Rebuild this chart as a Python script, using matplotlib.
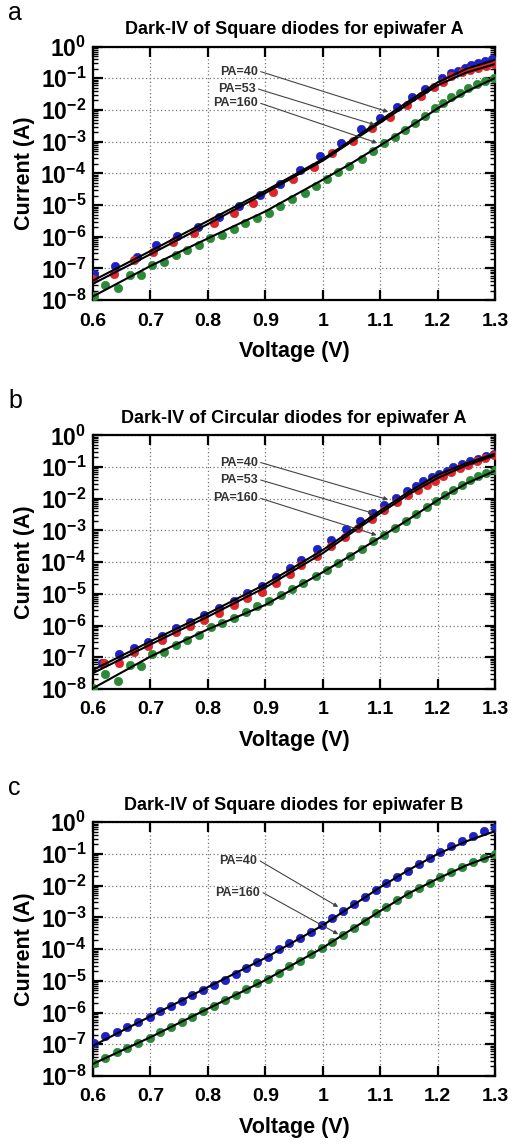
import numpy as np
import matplotlib
matplotlib.use('Agg')
import matplotlib.pyplot as plt
from matplotlib.ticker import LogLocator, NullFormatter, FixedLocator

plt.rcParams['font.family'] = ['Liberation Sans', 'DejaVu Sans']
plt.rcParams['mathtext.fontset'] = 'custom'
plt.rcParams['mathtext.rm'] = 'Liberation Sans:bold'
plt.rcParams['mathtext.bf'] = 'Liberation Sans:bold'
plt.rcParams['mathtext.default'] = 'rm'

# ---- panel a : square diodes, epiwafer A (log10 of current in A) ----
a_v40 = [0.602, 0.639, 0.677, 0.710, 0.746, 0.782, 0.819, 0.854, 0.890, 0.926, 0.961, 0.995, 1.031,
         1.067, 1.100, 1.130, 1.156, 1.178, 1.207, 1.224, 1.236, 1.248, 1.259, 1.271, 1.282, 1.294]
a_i40 = [-7.16, -6.92, -6.63, -6.26, -5.98, -5.68, -5.37, -5.02, -4.68, -4.32, -3.89, -3.45, -3.03,
         -2.61, -2.24, -1.89, -1.58, -1.35, -1.00, -0.84, -0.76, -0.66, -0.59, -0.53, -0.46, -0.40]
a_v53 = [0.600, 0.637, 0.671, 0.704, 0.740, 0.775, 0.810, 0.845, 0.878, 0.913, 0.948, 0.984, 1.017,
         1.052, 1.085, 1.117, 1.146, 1.172, 1.194, 1.210, 1.224, 1.242, 1.256, 1.271, 1.285, 1.299]
a_i53 = [-7.32, -7.16, -6.74, -6.47, -6.16, -5.87, -5.58, -5.26, -4.93, -4.58, -4.19, -3.79, -3.37,
         -2.98, -2.58, -2.21, -1.84, -1.56, -1.26, -1.11, -0.93, -0.81, -0.74, -0.67, -0.61, -0.55]
a_v160 = [0.601, 0.621, 0.643, 0.664, 0.683, 0.703, 0.724, 0.745, 0.763, 0.784, 0.804, 0.824, 0.845,
          0.865, 0.885, 0.906, 0.926, 0.946, 0.969, 0.988, 1.007, 1.026, 1.045, 1.068, 1.088, 1.107,
          1.126, 1.143, 1.161, 1.178, 1.195, 1.210, 1.224, 1.239, 1.253, 1.268, 1.282, 1.298]
a_i160 = [-7.87, -7.53, -7.60, -7.21, -7.21, -6.89, -6.79, -6.58, -6.42, -6.26, -6.05, -5.93, -5.74,
          -5.56, -5.42, -5.24, -5.02, -4.82, -4.61, -4.39, -4.19, -3.97, -3.77, -3.53, -3.29, -3.05,
          -2.84, -2.63, -2.42, -2.19, -1.95, -1.77, -1.60, -1.45, -1.32, -1.19, -1.08, -0.98]

fit_v = [0.6, 0.7, 0.8, 0.9, 1.0, 1.05, 1.1, 1.15, 1.2, 1.25, 1.3]
a_fit40 = [-7.38, -6.45, -5.50, -4.55, -3.55, -2.95, -2.33, -1.72, -1.13, -0.70, -0.42]
a_fit53 = [-7.48, -6.55, -5.60, -4.62, -3.60, -3.00, -2.40, -1.80, -1.22, -0.82, -0.55]
a_fit160 = [-7.88, -6.92, -6.05, -5.20, -4.20, -3.68, -3.12, -2.55, -1.95, -1.42, -0.99]

# ---- panel b : circular diodes, epiwafer A ----
b_v40 = [0.615, 0.645, 0.671, 0.695, 0.720, 0.745, 0.769, 0.794, 0.820, 0.845, 0.869, 0.894, 0.918,
         0.943, 0.963, 0.990, 1.014, 1.040, 1.065, 1.088, 1.107, 1.127, 1.147, 1.163, 1.175, 1.190,
         1.202, 1.216, 1.227, 1.242, 1.256, 1.271, 1.285, 1.298]
b_i40 = [-7.19, -6.91, -6.72, -6.51, -6.32, -6.08, -5.89, -5.68, -5.45, -5.22, -4.98, -4.75, -4.47,
         -4.19, -3.93, -3.58, -3.29, -2.96, -2.69, -2.45, -2.21, -1.98, -1.77, -1.61, -1.45, -1.33,
         -1.22, -1.12, -1.01, -0.91, -0.82, -0.74, -0.66, -0.59]
b_v53 = [0.620, 0.645, 0.671, 0.695, 0.720, 0.745, 0.769, 0.794, 0.820, 0.845, 0.869, 0.894, 0.918,
         0.943, 0.963, 0.990, 1.014, 1.039, 1.062, 1.086, 1.107, 1.129, 1.149, 1.166, 1.181, 1.195,
         1.210, 1.224, 1.239, 1.253, 1.268, 1.282, 1.298]
b_i53 = [-7.19, -7.19, -6.84, -6.66, -6.45, -6.21, -6.01, -5.82, -5.59, -5.35, -5.14, -4.93, -4.66,
         -4.37, -4.08, -3.80, -3.50, -3.22, -2.93, -2.63, -2.35, -2.11, -1.87, -1.72, -1.56, -1.43,
         -1.29, -1.17, -1.03, -0.93, -0.82, -0.72, -0.63]
b_v160 = [0.600, 0.621, 0.643, 0.664, 0.683, 0.703, 0.724, 0.745, 0.763, 0.784, 0.805, 0.825, 0.846,
          0.866, 0.886, 0.907, 0.927, 0.947, 0.966, 0.988, 1.008, 1.027, 1.048, 1.068, 1.088, 1.107,
          1.126, 1.145, 1.163, 1.181, 1.198, 1.213, 1.227, 1.242, 1.256, 1.271, 1.285, 1.300]
b_i160 = [-7.98, -7.54, -7.74, -7.24, -7.27, -6.91, -6.84, -6.63, -6.45, -6.29, -6.06, -5.93, -5.75,
          -5.56, -5.40, -5.22, -5.03, -4.84, -4.66, -4.45, -4.24, -4.03, -3.80, -3.58, -3.35, -3.14,
          -2.91, -2.69, -2.47, -2.26, -2.06, -1.87, -1.72, -1.56, -1.42, -1.29, -1.19, -1.10]
b_fit40 = [-7.40, -6.50, -5.62, -4.70, -3.62, -3.00, -2.38, -1.78, -1.25, -0.88, -0.58]
b_fit53 = [-7.50, -6.60, -5.72, -4.80, -3.72, -3.08, -2.46, -1.86, -1.35, -0.95, -0.63]
b_fit160 = [-7.98, -6.98, -6.12, -5.35, -4.32, -3.78, -3.22, -2.65, -2.05, -1.52, -1.12]

# ---- panel c : square diodes, epiwafer B ----
c_v40 = [0.602, 0.621, 0.641, 0.660, 0.679, 0.699, 0.717, 0.736, 0.755, 0.772, 0.791, 0.811, 0.830,
         0.849, 0.867, 0.885, 0.904, 0.924, 0.942, 0.961, 0.980, 0.998, 1.017, 1.036, 1.055, 1.074,
         1.092, 1.111, 1.130, 1.149, 1.167, 1.187, 1.205, 1.224, 1.243, 1.262, 1.281, 1.300]
c_i40 = [-6.96, -6.75, -6.61, -6.45, -6.29, -6.14, -5.96, -5.80, -5.64, -5.45, -5.29, -5.12, -4.96,
         -4.79, -4.61, -4.42, -4.24, -4.01, -3.82, -3.64, -3.45, -3.24, -3.03, -2.80, -2.58, -2.35,
         -2.14, -1.93, -1.72, -1.53, -1.33, -1.12, -0.93, -0.75, -0.58, -0.42, -0.29, -0.17]
c_v160 = c_v40
c_i160 = [-7.58, -7.42, -7.26, -7.11, -6.96, -6.79, -6.63, -6.45, -6.29, -6.14, -5.96, -5.80, -5.61,
          -5.45, -5.26, -5.08, -4.93, -4.74, -4.53, -4.37, -4.17, -3.98, -3.77, -3.56, -3.33, -3.11,
          -2.87, -2.66, -2.45, -2.26, -2.08, -1.91, -1.72, -1.56, -1.40, -1.26, -1.12, -1.00]
c_fit40 = [-7.05, -6.12, -5.20, -4.28, -3.25, -2.65, -2.05, -1.50, -1.00, -0.60, -0.28]
c_fit160 = [-7.62, -6.78, -5.88, -4.98, -3.96, -3.38, -2.80, -2.24, -1.78, -1.36, -1.02]

titles = ['Dark-IV of Square diodes for epiwafer A',
          'Dark-IV of Circular diodes for epiwafer A',
          'Dark-IV of Square diodes for epiwafer B']
letters = ['a', 'b', 'c']

# annotation: text end (V, log10 I) and arrow tip (V, log10 I)
a_notes = [('PA=40', (0.887, -0.79), (1.114, -2.06)),
           ('PA=53', (0.883, -1.34), (1.091, -2.47)),
           ('PA=160', (0.887, -1.79), (1.095, -3.04))]
b_notes = [('PA=40', (0.887, -0.86), (1.114, -2.03)),
           ('PA=53', (0.887, -1.41), (1.088, -2.46)),
           ('PA=160', (0.887, -1.99), (1.094, -3.15))]
c_notes = [('PA=40', (0.886, -1.22), (1.027, -2.67)),
           ('PA=160', (0.891, -2.22), (1.027, -3.53))]

blue = '#1c22c8'
red = '#e02428'
green = '#2a8a36'

panels = [
    ([(a_v40, a_i40, blue, a_fit40), (a_v53, a_i53, red, a_fit53), (a_v160, a_i160, green, a_fit160)], a_notes),
    ([(b_v40, b_i40, blue, b_fit40), (b_v53, b_i53, red, b_fit53), (b_v160, b_i160, green, b_fit160)], b_notes),
    ([(c_v40, c_i40, blue, c_fit40), (c_v160, c_i160, green, c_fit160)], c_notes),
]

W, H = 513, 1146
fig = plt.figure(figsize=(W / 100, H / 100), dpi=100)
tops = [46.6, 435.3, 822.3]
ax_h = 253.6

for k, (series, notes) in enumerate(panels):
    top = tops[k]
    ax = fig.add_axes([93 / W, 1 - (top + ax_h) / H, 402 / W, ax_h / H])
    for v, li, col, fit in series:
        ax.plot(v, 10 ** np.array(li), 'o', color=col, ms=6, mec=col, mew=0.5, zorder=3)
    for v, li, col, fit in series:
        ax.plot(fit_v, 10 ** np.array(fit), '-', color='black', lw=1.5, zorder=4)
    for txt, (tv, ti), (av, ai) in notes:
        ax.annotate('', xy=(av, 10 ** ai), xytext=(tv + 0.005, 10 ** ti),
                    arrowprops=dict(arrowstyle='-|>', color='#444444', lw=0.8,
                                    mutation_scale=6, shrinkA=0, shrinkB=0), zorder=5)
        ax.text(tv, 10 ** ti, txt, ha='right', va='center', fontsize=9,
                fontweight='bold', color='#333333', zorder=5)

    ax.set_yscale('log')
    ax.set_xlim(0.6, 1.3)
    ax.set_ylim(1e-8, 1)
    ax.set_xticks([0.6, 0.7, 0.8, 0.9, 1.0, 1.1, 1.2, 1.3])
    ax.set_xticklabels(['0.6', '0.7', '0.8', '0.9', '1', '1.1', '1.2', '1.3'])
    ax.yaxis.set_major_locator(FixedLocator([10.0 ** e for e in range(-8, 1)]))
    ax.set_yticklabels(['$10^{%d}$' % e for e in range(-8, 1)])
    ax.yaxis.set_minor_locator(LogLocator(base=10, subs=np.arange(2, 10), numticks=20))
    ax.yaxis.set_minor_formatter(NullFormatter())
    ax.tick_params(axis='both', which='major', direction='in', length=7, width=1.6,
                   top=True, right=True)
    ax.tick_params(axis='x', which='major', labelsize=14, pad=9)
    ax.tick_params(axis='y', which='major', labelsize=16.5, pad=5)
    ax.tick_params(axis='y', which='minor', direction='in', length=3.5, width=1.0, right=True)
    for lab in ax.get_xticklabels() + ax.get_yticklabels():
        lab.set_fontweight('bold')
    ax.grid(True, which='major', linestyle=(0, (1, 2)), color='#777777', lw=0.9)
    for s in ax.spines.values():
        s.set_linewidth(1.6)
    ax.set_xlabel('Voltage (V)', fontsize=15.5, fontweight='bold', labelpad=8)
    ax.set_ylabel('Current (A)', fontsize=15.5, fontweight='bold', labelpad=4)
    ax.set_title(titles[k], fontsize=13, fontweight='bold', pad=9)
    fig.text(8 / W, 1 - (top - 34) / H, letters[k], fontsize=18, ha='left', va='center')

plt.savefig('out.png', dpi=100)
